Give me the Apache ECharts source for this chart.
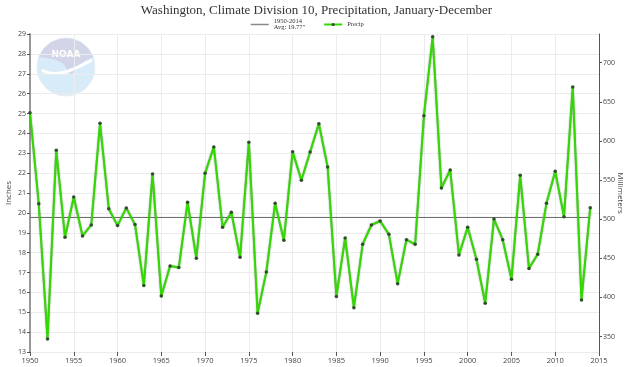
<!DOCTYPE html>
<html>
<head>
<meta charset="utf-8">
<script src="https://cdn.jsdelivr.net/npm/echarts@6/dist/echarts.min.js"></script>
<style>html,body{margin:0;padding:0;background:#fff}#c{width:633px;height:367px}</style>
</head>
<body>
<div id="c"></div>
<script>
const years = [1950,1951,1952,1953,1954,1955,1956,1957,1958,1959,
  1960,1961,1962,1963,1964,1965,1966,1967,1968,1969,
  1970,1971,1972,1973,1974,1975,1976,1977,1978,1979,
  1980,1981,1982,1983,1984,1985,1986,1987,1988,1989,
  1990,1991,1992,1993,1994,1995,1996,1997,1998,1999,
  2000,2001,2002,2003,2004,2005,2006,2007,2008,2009,
  2010,2011,2012,2013,2014];
const precip = [25.04,20.46,13.66,23.15,18.77,20.80,18.84,19.39,24.51,20.21,
  19.36,20.25,19.41,16.34,21.96,15.82,17.33,17.25,20.53,17.72,
  21.99,23.32,19.28,20.03,17.77,23.55,14.95,17.03,20.48,18.62,
  23.08,21.64,23.06,24.49,22.31,15.79,18.74,15.23,18.42,19.39,
  19.59,18.92,16.44,18.65,18.42,24.89,28.86,21.25,22.16,17.88,
  19.28,17.67,15.45,19.69,18.65,16.66,21.89,17.20,17.92,20.48,
  22.09,19.81,26.33,15.62,20.26];
const avgValue = 19.77;
const avgPeriod = '1950-2014';
const mmTicks = [350,400,450,500,550,600,650,700];
const inchMin = 13, inchMax = 29;

const chart = echarts.init(document.getElementById('c'), null, {renderer:'canvas'});
const sans = '"Open Sans", sans-serif';
const serif = '"Liberation Serif", "Times New Roman", serif';

chart.setOption({
  animation: false,
  backgroundColor: '#fff',
  title: {
    text: 'Washington, Climate Division 10, Precipitation, January-December',
    left: 'center', top: -1,
    textStyle: {fontFamily: serif, fontSize: 13, fontWeight: 'normal', color: '#333'}
  },
  legend: {
    left: 245, top: 13,
    itemWidth: 18, itemHeight: 4, itemGap: 18,
    data: [
      {name: 'avg', itemStyle: {opacity: 0}, lineStyle: {color: '#888', width: 1.5}},
      {name: 'Precip', itemStyle: {color: '#2f4f2a'}}
    ],
    formatter: function (n) { return n === 'avg' ? avgPeriod + '\nAvg: ' + avgValue + '"' : n; },
    textStyle: {fontFamily: serif, fontSize: 6.5, lineHeight: 6, color: '#333'}
  },
  graphic: [
    {type: 'circle', shape: {cx: 66, cy: 67, r: 29}, style: {fill: '#d8ebf8', stroke: '#e8eff5', lineWidth: 1}, z: 0},
    {type: 'polygon', shape: {points: [[38.7,57.1],[43.8,48.4],[51.5,41.9],[61,38.4],[71,38.4],[80.5,41.9],[88.2,48.4],[93.3,57.1],[86,60],[78,66],[71,76],[64,64],[54,59]]}, style: {fill: '#d2d4e8'}, z: 0},
    {type: 'bezierCurve', shape: {x1: 42, y1: 70, x2: 92, y2: 60, cpx1: 58, cpy1: 80, cpx2: 80, cpy2: 66}, style: {fill: null, stroke: '#ffffff', lineWidth: 3}, z: 0},
    {type: 'text', x: 66, y: 55, style: {text: 'NOAA', fill: '#ffffff', font: 'bold 9px "DejaVu Sans"', align: 'center', verticalAlign: 'middle'}, z: 0}
  ],
  grid: {left: 30, right: 34, top: 34, bottom: 15, outerBoundsMode: 'none'},
  xAxis: {
    type: 'value', min: 1950, max: 2015, interval: 5,
    axisLine: {show: false},
    axisTick: {show: true, length: 4, lineStyle: {color: '#555'}},
    axisLabel: {fontFamily: sans, fontSize: 7.5, color: '#444', margin: 5, formatter: v => String(v)},
    splitLine: {show: true, lineStyle: {color: '#ececec', width: 1}}
  },
  yAxis: [
    {
      type: 'value', min: inchMin, max: inchMax, interval: 1,
      name: 'Inches', nameLocation: 'middle', nameGap: 17, nameRotate: 90, nameMoveOverlap: false,
      nameTextStyle: {fontFamily: sans, fontSize: 8, color: '#444'},
      axisLine: {show: true, lineStyle: {color: '#999', width: 2}},
      axisTick: {show: true, length: 3, lineStyle: {color: '#555'}},
      axisLabel: {fontFamily: sans, fontSize: 7, color: '#444', margin: 4},
      splitLine: {show: true, lineStyle: {color: '#ececec', width: 1}}
    },
    {
      type: 'value', position: 'right', min: inchMin * 25.4, max: inchMax * 25.4,
      name: 'Millimeters', nameLocation: 'middle', nameGap: 17, nameRotate: -90, nameMoveOverlap: false,
      nameTextStyle: {fontFamily: sans, fontSize: 8, color: '#444'},
      axisLine: {show: true, lineStyle: {color: '#555', width: 1}},
      axisTick: {show: true, length: 3, customValues: mmTicks, lineStyle: {color: '#555'}},
      axisLabel: {fontFamily: sans, fontSize: 7, color: '#444', margin: 4, customValues: mmTicks},
      splitLine: {show: false}
    }
  ],
  series: [
    {
      name: 'avg', type: 'line', yAxisIndex: 0,
      data: [[years[0], avgValue], [years[years.length - 1], avgValue]],
      symbol: 'none', lineStyle: {color: '#666', width: 1}, itemStyle: {color: '#666'},
      z: 3
    },
    {
      name: 'Precip', type: 'line', yAxisIndex: 0,
      data: years.map((y, i) => [y, precip[i]]),
      symbol: 'circle', symbolSize: 3.5, showSymbol: true,
      lineStyle: {color: '#33d800', width: 2, shadowColor: 'rgba(0,60,0,0.5)', shadowBlur: 1.5},
      itemStyle: {color: '#2f4f2a', borderWidth: 0},
      z: 4
    }
  ]
});
</script>
</body>
</html>
